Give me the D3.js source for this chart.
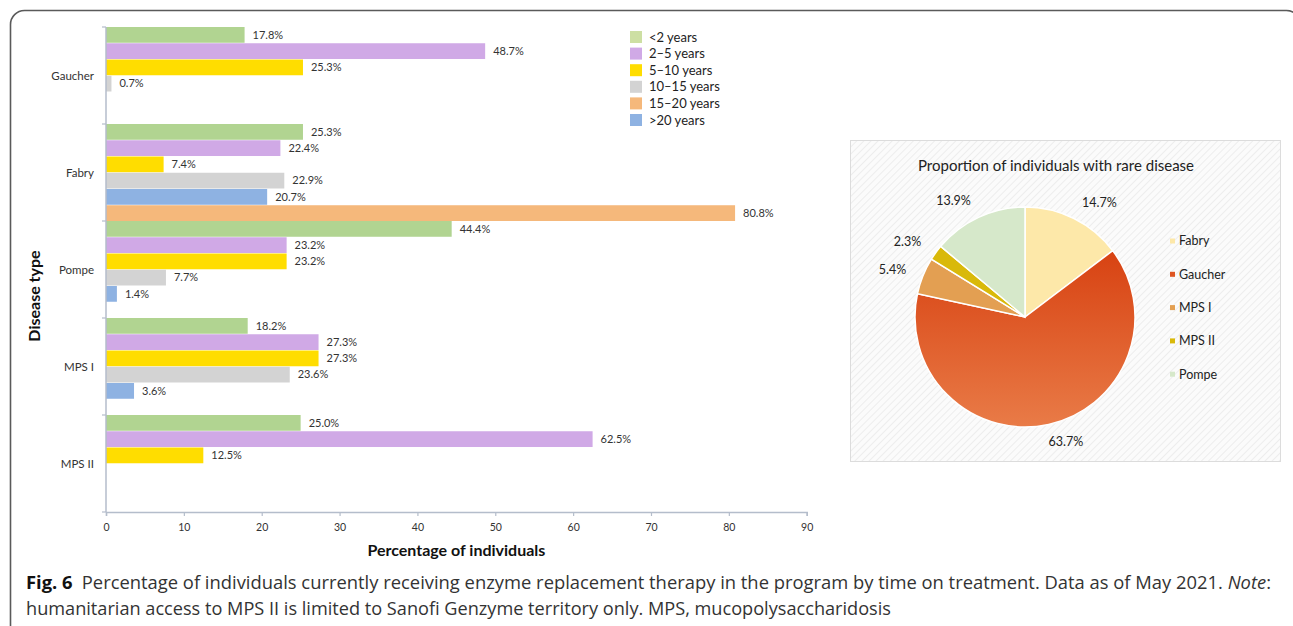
<!DOCTYPE html>
<html>
<head>
<meta charset="utf-8">
<script src="https://cdn.jsdelivr.net/npm/d3@7"></script>
<style>
  html, body { margin: 0; padding: 0; background: #fff; }
  svg { display: block; }
  .chart-txt { font-family: Lato, "Open Sans", sans-serif; fill: #333; }
  .caption { font-family: "Open Sans", "Noto Sans", sans-serif; fill: #333; }
</style>
</head>
<body>
<div id="fig"></div>
<script>
// ---- datos del gráfico de barras ----
const categories = ["Gaucher", "Fabry", "Pompe", "MPS I", "MPS II"];
const seriesNames = ["<2 years", "2–5 years", "5–10 years", "10–15 years", "15–20 years", ">20 years"];
const seriesColors = ["#B1D491", "#D0A9E6", "#FFDD00", "#D3D3D3", "#F5B87B", "#8EB2E2"];
const legendColors = ["#CDDFA3", "#D0A9E6", "#FFDD00", "#D3D3D3", "#F5B87B", "#8EB2E2"];
// posición de cada serie dentro del grupo (>20 va antes de 15–20)
const slotOrder = [0, 1, 2, 3, 5, 4];

const under2 = [17.8, 25.3, 44.4, 18.2, 25.0];
const y2to5 = [48.7, 22.4, 23.2, 27.3, 62.5];
const y5to10 = [25.3, 7.4, 23.2, 27.3, 12.5];
const y10to15 = [0.7, 22.9, 7.7, 23.6, null];
const y15to20 = [null, 80.8, null, null, null];
const over20 = [null, 20.7, 1.4, 3.6, null];
const seriesValues = [under2, y2to5, y5to10, y10to15, y15to20, over20];
const xTicks = [0, 10, 20, 30, 40, 50, 60, 70, 80, 90];

// ---- datos del gráfico circular ----
const pieLabels = ["Fabry", "Gaucher", "MPS I", "MPS II", "Pompe"];
const pieValues = [14.7, 63.7, 5.4, 2.3, 13.9];
const pieColors = ["#FDE8A9", "url(#gaucherGrad)", "#E39F52", "#D9B90A", "#D6E8CA"];
const pieLegendColors = ["#FDE8A9", "#DE5522", "#E39F52", "#D9B90A", "#D6E8CA"];

const W = 1293, H = 626;
const svg = d3.select("#fig").append("svg").attr("width", W).attr("height", H);
const defs = svg.append("defs");

// marco exterior
svg.append("rect")
  .attr("x", 10.5).attr("y", 10.5)
  .attr("width", 1290).attr("height", 640)
  .attr("rx", 14)
  .attr("fill", "none").attr("stroke", "#5a5a5a").attr("stroke-width", 1.6);

// ============ barras ============
const x = d3.scaleLinear().domain([0, 90]).range([106, 806.7]);
const y = d3.scaleBand().domain(categories).range([27, 512]).paddingInner(0).paddingOuter(0);
const ySlot = d3.scaleBand().domain(d3.range(6)).range([0, y.bandwidth()]).paddingInner(0.03);

const bars = [];
seriesValues.forEach((vals, s) => {
  vals.forEach((v, c) => {
    if (v != null) bars.push({ s, cat: categories[c], v });
  });
});

const gBars = svg.append("g");
gBars.selectAll("rect").data(bars).join("rect")
  .attr("x", x(0))
  .attr("y", d => y(d.cat) + ySlot(slotOrder[d.s]))
  .attr("width", d => x(d.v) - x(0))
  .attr("height", ySlot.bandwidth())
  .attr("fill", d => seriesColors[d.s]);

gBars.selectAll("text").data(bars).join("text")
  .attr("class", "chart-txt")
  .attr("x", d => x(d.v) + 8)
  .attr("y", d => y(d.cat) + ySlot(slotOrder[d.s]) + ySlot.bandwidth() / 2)
  .attr("dy", "0.35em")
  .attr("font-size", 11)
  .text(d => d.v.toFixed(1) + "%");

// eje y
const axisColor = "#B4BDCB";
const gy = svg.append("g");
gy.append("line")
  .attr("x1", x(0)).attr("x2", x(0))
  .attr("y1", y.range()[0]).attr("y2", y.range()[1])
  .attr("stroke", axisColor).attr("stroke-width", 1.5);
const boundaries = categories.map(c => y(c)).concat([y.range()[1]]);
gy.selectAll("line.tick").data(boundaries).join("line")
  .attr("class", "tick")
  .attr("x1", x(0) - 4).attr("x2", x(0))
  .attr("y1", d => d).attr("y2", d => d)
  .attr("stroke", axisColor).attr("stroke-width", 1.2);
gy.selectAll("text").data(categories).join("text")
  .attr("class", "chart-txt")
  .attr("x", 94)
  .attr("y", d => y(d) + y.bandwidth() / 2)
  .attr("dy", "0.35em")
  .attr("text-anchor", "end")
  .attr("font-size", 11.5)
  .text(d => d);

// eje x
const gx = svg.append("g").attr("transform", `translate(0,${y.range()[1]})`)
  .call(d3.axisBottom(x).tickValues(xTicks).tickSize(4).tickPadding(8));
gx.select(".domain").attr("stroke", axisColor).attr("stroke-width", 1.5);
gx.selectAll(".tick line").attr("stroke", axisColor).attr("stroke-width", 1.2);
gx.selectAll(".tick text").attr("class", "chart-txt").attr("font-size", 10.5).attr("fill", "#333");

svg.append("text").attr("class", "chart-txt")
  .attr("x", (x(0) + x(90)) / 2).attr("y", 556)
  .attr("text-anchor", "middle")
  .attr("font-size", 16).attr("font-weight", "bold").style("fill", "#111")
  .text("Percentage of individuals");

svg.append("text").attr("class", "chart-txt")
  .attr("transform", "translate(40,296) rotate(-90)")
  .attr("text-anchor", "middle")
  .attr("font-size", 16).attr("font-weight", "bold").style("fill", "#111")
  .text("Disease type");

// leyenda barras
const gLeg = svg.append("g").attr("transform", "translate(630,31)");
const legItem = gLeg.selectAll("g").data(seriesNames).join("g")
  .attr("transform", (d, i) => `translate(0,${i * 16.6})`);
legItem.append("rect").attr("width", 12).attr("height", 12)
  .attr("fill", (d, i) => legendColors[i]);
legItem.append("text").attr("class", "chart-txt")
  .attr("x", 19).attr("y", 6).attr("dy", "0.35em")
  .attr("font-size", 13).style("fill", "#222")
  .text(d => d);

// ============ gráfico circular ============
const pat = defs.append("pattern").attr("id", "hatch")
  .attr("patternUnits", "userSpaceOnUse").attr("width", 5).attr("height", 5)
  .attr("patternTransform", "rotate(45)");
pat.append("rect").attr("width", 5).attr("height", 5).attr("fill", "#fbfbfb");
pat.append("line").attr("x1", 0).attr("y1", 0).attr("x2", 0).attr("y2", 5)
  .attr("stroke", "#ededed").attr("stroke-width", 2);

const pieBox = { x: 850, y: 140, w: 430, h: 321 };
svg.append("rect")
  .attr("x", pieBox.x + 0.5).attr("y", pieBox.y + 0.5)
  .attr("width", pieBox.w).attr("height", pieBox.h)
  .attr("fill", "url(#hatch)").attr("stroke", "#dcdcdc");

svg.append("text").attr("class", "chart-txt")
  .attr("x", 1056).attr("y", 166).attr("dy", "0.35em")
  .attr("text-anchor", "middle").attr("font-size", 15).style("fill", "#222")
  .text("Proportion of individuals with rare disease");

const cx = 1025, cy = 317, r = 110;
// el degradado usa las coordenadas del grupo trasladado
const grad = defs.append("linearGradient").attr("id", "gaucherGrad")
  .attr("gradientUnits", "userSpaceOnUse")
  .attr("x1", 0).attr("y1", -r).attr("x2", 0).attr("y2", r);
grad.append("stop").attr("offset", "0").attr("stop-color", "#D33405");
grad.append("stop").attr("offset", "1").attr("stop-color", "#E97B47");

const pie = d3.pie().sort(null).value(d => d)(pieValues);
const arc = d3.arc().innerRadius(0).outerRadius(r);
const labelArc = d3.arc().innerRadius(128).outerRadius(128);
const midSin = d => Math.sin((d.startAngle + d.endAngle) / 2);

const gPie = svg.append("g").attr("transform", `translate(${cx},${cy})`);
gPie.selectAll("path").data(pie).join("path")
  .attr("d", arc)
  .attr("fill", (d, i) => pieColors[i])
  .attr("stroke", "#fff").attr("stroke-width", 1.5);
gPie.selectAll("text").data(pie).join("text")
  .attr("class", "chart-txt")
  .attr("transform", d => `translate(${labelArc.centroid(d)})`)
  .attr("text-anchor", d => Math.abs(midSin(d)) < 0.3 ? "start" : (midSin(d) > 0 ? "start" : "end"))
  .attr("dx", d => Math.abs(midSin(d)) < 0.3 ? -4 : 0)
  .attr("dy", "0.35em")
  .attr("font-size", 12.5).style("fill", "#222")
  .text(d => d.value.toFixed(1) + "%");

const gPieLeg = svg.append("g").attr("transform", "translate(1170,241)");
const pItem = gPieLeg.selectAll("g").data(pieLabels).join("g")
  .attr("transform", (d, i) => `translate(0,${i * 33.3})`);
pItem.append("rect").attr("x", 0).attr("y", -2.5).attr("width", 5).attr("height", 5)
  .attr("fill", (d, i) => pieLegendColors[i]);
pItem.append("text").attr("class", "chart-txt")
  .attr("x", 9).attr("dy", "0.35em")
  .attr("font-size", 12.5).style("fill", "#222")
  .text(d => d);

// ============ pie de figura ============
const cap1 = svg.append("text").attr("class", "caption")
  .attr("x", 26).attr("y", 589).attr("font-size", 17.5)
  .attr("textLength", 1245).attr("lengthAdjust", "spacingAndGlyphs");
cap1.append("tspan").attr("font-weight", "bold").style("fill", "#111").text("Fig. 6");
cap1.append("tspan").text("\u2002Percentage of individuals currently receiving enzyme replacement therapy in the program by time on treatment. Data as of May 2021. ");
cap1.append("tspan").attr("font-style", "italic").text("Note");
cap1.append("tspan").text(":");

svg.append("text").attr("class", "caption")
  .attr("x", 26).attr("y", 615).attr("font-size", 17.5)
  .attr("textLength", 865).attr("lengthAdjust", "spacingAndGlyphs")
  .text("humanitarian access to MPS II is limited to Sanofi Genzyme territory only. MPS, mucopolysaccharidosis");
</script>
</body>
</html>
